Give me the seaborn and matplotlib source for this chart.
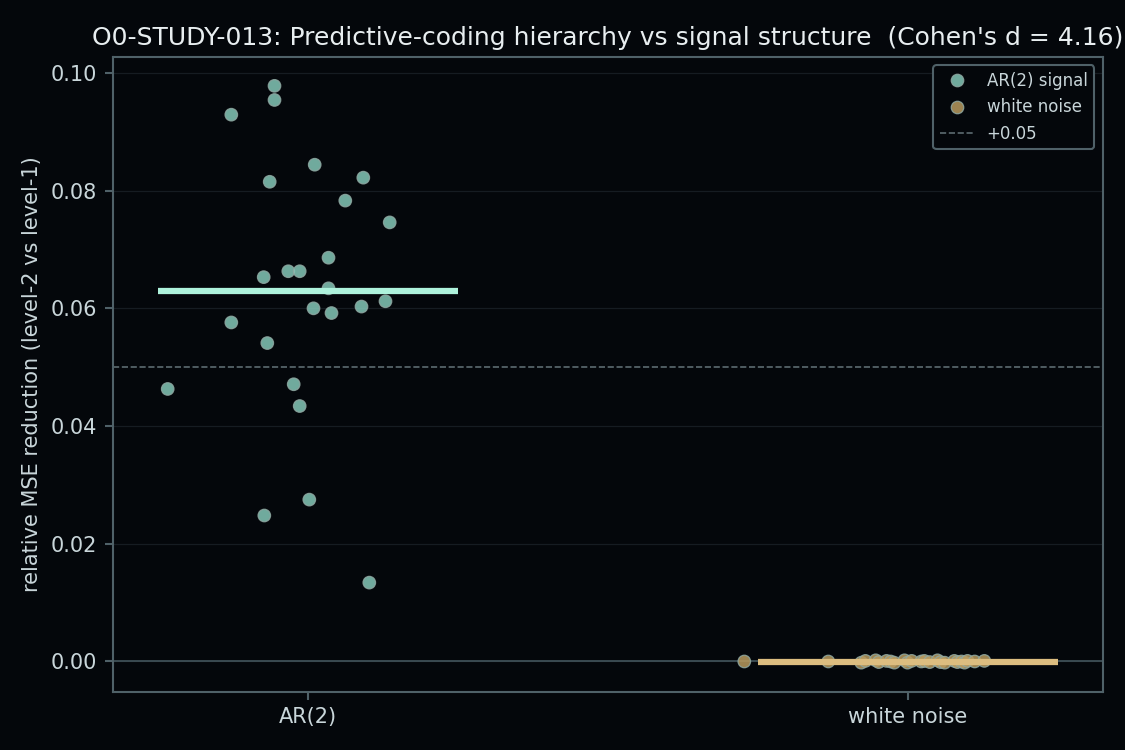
import numpy as np
import pandas as pd
import matplotlib
matplotlib.use('Agg')
import matplotlib.pyplot as plt
import seaborn as sns

# ============================================
# data
# ============================================
categories = ['AR(2)', 'white noise']

ar2_values = [0.0463, 0.0929, 0.0978, 0.0954, 0.0815, 0.0844, 0.0822, 0.0783,
              0.0746, 0.0686, 0.0653, 0.0663, 0.0663, 0.0634, 0.0600, 0.0592,
              0.0603, 0.0612, 0.0576, 0.0541, 0.0471, 0.0434, 0.0275, 0.0248,
              0.0134]
ar2_jitter = [-0.233, -0.127, -0.055, -0.055, -0.063, 0.012, 0.093, 0.063,
              0.137, 0.035, -0.073, -0.032, -0.013, 0.035, 0.010, 0.040,
              0.090, 0.130, -0.127, -0.067, -0.023, -0.013, 0.003, -0.072,
              0.103]

noise_values = [0.0000, 0.0000, -0.0002, 0.0001, 0.0002, -0.0001, 0.0001, 0.0000,
                -0.0002, 0.0002, -0.0002, 0.0001, 0.0000, 0.0001, -0.0001, 0.0002,
                -0.0001, -0.0002, 0.0001, -0.0001, 0.0000, -0.0002, 0.0001, 0.0000,
                0.0001]
noise_jitter = [-0.272, -0.132, -0.077, -0.070, -0.053, -0.048, -0.035, -0.028,
                -0.022, -0.005, 0.000, 0.007, 0.023, 0.028, 0.037, 0.050,
                0.055, 0.062, 0.078, 0.083, 0.090, 0.095, 0.100, 0.112,
                0.128]

threshold = 0.05
cohens_d = 4.16

# ============================================
# style
# ============================================
bg = '#04070b'
spine_c = '#4f6168'
text_c = '#c9d6da'

sns.set_theme(style='dark')
plt.rcParams['font.family'] = ['DejaVu Sans']
plt.rcParams.update({
    'figure.facecolor': bg,
    'axes.facecolor': bg,
    'axes.edgecolor': spine_c,
    'axes.labelcolor': text_c,
    'xtick.color': spine_c,
    'ytick.color': spine_c,
    'xtick.labelcolor': text_c,
    'ytick.labelcolor': text_c,
    'text.color': text_c,
})

rows = []
for v, j in zip(ar2_values, ar2_jitter):
    rows.append({'x': 0 + j, 'y': v, 'group': 'AR(2) signal'})
for v, j in zip(noise_values, noise_jitter):
    rows.append({'x': 1 + j, 'y': v, 'group': 'white noise'})
df = pd.DataFrame(rows)

fig, ax = plt.subplots(figsize=(7.5, 5), dpi=150)

palette = {'AR(2) signal': '#84c8b8', 'white noise': '#b89a5e'}
sns.scatterplot(data=df, x='x', y='y', hue='group', palette=palette,
                s=36, alpha=0.85, edgecolor='#8fa8a2', linewidth=0.6, ax=ax, zorder=3)

# mean bars
means = [np.mean(ar2_values), np.mean(noise_values)]
mean_colors = ['#aef2dc', '#dcbd80']
for i, (m, c) in enumerate(zip(means, mean_colors)):
    ax.plot([i - 0.25, i + 0.25], [m, m], color=c, lw=3, zorder=4, solid_capstyle='butt')

ax.axhline(threshold, color='#5c6b70', lw=0.8, ls='--', label='+0.05', zorder=1)
ax.axhline(0, color='#3c4d54', lw=0.9, zorder=1)

ax.grid(axis='y', color='#161c22', lw=0.6)
ax.grid(axis='x', visible=False)
ax.set_axisbelow(True)

ax.set_xticks([0, 1])
ax.set_xticklabels(categories, fontsize=10)
ax.tick_params(axis='y', labelsize=10)
ax.tick_params(axis='both', length=4, width=1, bottom=True, left=True)
ax.set_xlabel('')
ax.set_ylabel('relative MSE reduction (level-2 vs level-1)', fontsize=10)
ax.set_title(f"O0-STUDY-013: Predictive-coding hierarchy vs signal structure  (Cohen's d = {cohens_d:.2f})",
             fontsize=12, color='#e8eef0')
for sp in ax.spines.values():
    sp.set_color(spine_c)
    sp.set_linewidth(1)

leg = ax.legend(loc='upper right', fontsize=8, facecolor=bg, edgecolor=spine_c, framealpha=1)
for t in leg.get_texts():
    t.set_color(text_c)

fig.subplots_adjust(left=0.1, right=0.98, top=0.924, bottom=0.078)
plt.savefig('out.png', dpi=150, facecolor=bg)
plt.close()
